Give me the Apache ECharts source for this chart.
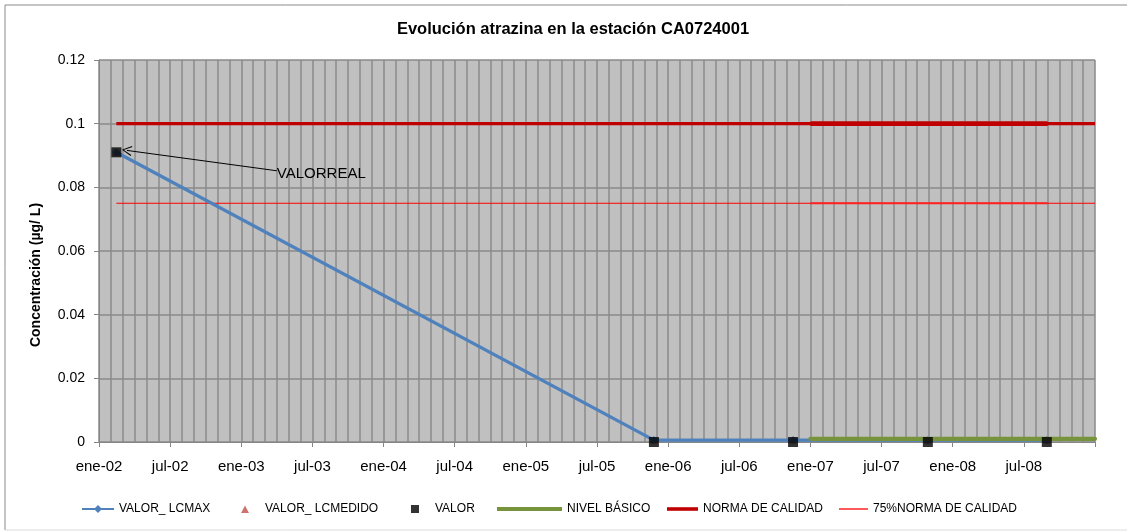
<!DOCTYPE html>
<html>
<head>
<meta charset="utf-8">
<script src="https://cdn.jsdelivr.net/npm/echarts@6/dist/echarts.min.js"></script>
<style>
html,body{margin:0;padding:0;background:#fff;}
#chart{width:1127px;height:532px;}
</style>
</head>
<body>
<div id="chart"></div>
<script>
// ---- data ----
const xTickLabels = ['ene-02','jul-02','ene-03','jul-03','ene-04','jul-04','ene-05','jul-05','ene-06','jul-06','ene-07','jul-07','ene-08','jul-08'];
const axisStart = '2002-01-01';
const axisEnd = '2009-01-01';
const sampleDates = ['2002-02-14','2005-11-25','2006-11-17','2007-10-29','2008-08-30'];
const valorLcMax = [0.091, 0.0006, 0.0006, 0.0006, 0.0006];
const valorLcMedido = [0.091, 0.0006, 0.0006, 0.0006, 0.0006];
const valor = [0.091, 0, 0, 0, 0];
const nivelBasicoDates = ['2007-01-01','2009-01-01'];
const nivelBasico = [0.001, 0.001];
const normaDates = ['2002-02-14','2009-01-01'];
const norma = [0.1, 0.1];
const norma75 = [0.075, 0.075];
const tramoDates = ['2007-01-01','2008-09-01'];
const annotationText = 'VALORREAL';
const annotationFrom = ['2003-04-01', 0.0852];
const annotationTo = ['2002-03-12', 0.0916];

// date -> months since axis start (fractional)
function toM(s){
  const [y,m,d] = s.split('-').map(Number);
  const s0 = axisStart.split('-').map(Number);
  const dim = new Date(y, m, 0).getDate();
  return (y - s0[0]) * 12 + (m - s0[1]) + (d - 1) / dim;
}
const pairs = (dates, vals) => dates.map((d,i)=>[toM(d), vals[i]]);

const REG = "'Liberation Sans',Arial,sans-serif";

const chart = echarts.init(document.getElementById('chart'), null, {renderer:'canvas'});

const LH = 10; // legend icon box height
const legendTop = 503;
function mkLegend(name, left, w, icon){
  return {
    data:[icon ? {name:name, icon:icon} : name], left:left, top:legendTop, itemWidth:w, itemHeight:LH,
    textStyle:{fontFamily:REG, fontSize:12, color:'#000'},
    selectedMode:false, padding:0
  };
}
function lineIcon(w, t){
  const a = (LH - t)/2, b = (LH + t)/2;
  return 'path://M0,0 M'+w+','+LH+' M0,'+a+' L'+w+','+a+' L'+w+','+b+' L0,'+b+' Z';
}
const triIcon = 'path://M0,0 M30,10 M11,9 L15,1.5 L19,9 Z';
const sqIcon = 'path://M0,0 M30,10 M11,1 L19,1 L19,9 L11,9 Z';

const option = {
  animation:false,
  backgroundColor:'#fff',
  title:{
    text:'Evolución atrazina en la estación CA0724001',
    left:568, top:16, textAlign:'center',
    textStyle:{fontFamily:REG, fontSize:16.5, fontWeight:'bold', color:'#000'}
  },
  graphic:[
    {type:'line', shape:{x1:5,y1:5,x2:1127,y2:5}, style:{stroke:'#8a8a8a', lineWidth:1}},
    {type:'line', shape:{x1:5,y1:5,x2:5,y2:530}, style:{stroke:'#8a8a8a', lineWidth:1}},
    {type:'line', shape:{x1:5,y1:530,x2:1127,y2:530}, style:{stroke:'#dcdcdc', lineWidth:1}},
    {type:'text', x:36, y:275, rotation:Math.PI/2,
     style:{text:'Concentración (µg/ L)', font:"bold 14px "+REG, fill:'#000', textAlign:'center', textVerticalAlign:'middle'}}
  ],
  legend:[
    mkLegend('VALOR_ LCMAX', 81, 32),
    mkLegend('VALOR_ LCMEDIDO', 230, 30, triIcon),
    mkLegend('VALOR', 400, 30, sqIcon),
    mkLegend('NIVEL BÁSICO', 497, 65, lineIcon(65, 4)),
    mkLegend('NORMA DE CALIDAD', 667, 31, lineIcon(31, 3.6)),
    mkLegend('75%NORMA DE CALIDAD', 839, 29, lineIcon(29, 1.3))
  ],
  grid:{left:99, right:32, top:60, bottom:90, show:true, backgroundColor:'#c0c0c0', borderWidth:0},
  xAxis:{
    type:'value', min:0, max:toM(axisEnd), interval:6,
    axisLine:{show:true, onZero:false, lineStyle:{color:'#868686', width:1}},
    axisTick:{show:true, inside:false, length:5, lineStyle:{color:'#868686'}},
    axisLabel:{margin:17, fontFamily:REG, fontSize:15, color:'#000',
      formatter:(v)=>{const i=Math.round(v/6); return (Math.abs(v-i*6)<1e-6 && xTickLabels[i]) ? xTickLabels[i] : '';}},
    splitLine:{show:true, lineStyle:{color:'#8a8a8a', width:1.5}},
    minorTick:{show:false, splitNumber:6},
    minorSplitLine:{show:true, lineStyle:{color:'#8a8a8a', width:1.5}}
  },
  yAxis:{
    type:'value', min:0, max:0.12, interval:0.02,
    axisLine:{show:true, lineStyle:{color:'#868686', width:1}},
    axisTick:{show:true, inside:false, length:5, lineStyle:{color:'#868686'}},
    axisLabel:{margin:14, fontFamily:REG, fontSize:14, color:'#000'},
    splitLine:{show:true, lineStyle:{color:'#8a8a8a', width:1.5}}
  },
  series:[
    {name:'NORMA DE CALIDAD', type:'line', data:pairs(normaDates, norma), symbol:'none',
     lineStyle:{color:'#c00000', width:3.3}, itemStyle:{color:'#c00000'}, z:3},
    {name:'tramoNorma', type:'line', data:pairs(tramoDates, norma), symbol:'none',
     lineStyle:{color:'#c00000', width:4.8}, z:3},
    {name:'75%NORMA DE CALIDAD', type:'line', data:pairs(normaDates, norma75), symbol:'none',
     lineStyle:{color:'#ff0000', width:1.2}, itemStyle:{color:'#ff0000'}, z:3},
    {name:'tramo75', type:'line', data:pairs(tramoDates, norma75), symbol:'none',
     lineStyle:{color:'#ff2020', width:1.8}, z:3},
    {name:'VALOR_ LCMEDIDO', type:'scatter', data:pairs(sampleDates, valorLcMedido), symbol:'triangle',
     symbolSize:7, itemStyle:{color:'#c0504d'}, z:4},
    {name:'VALOR_ LCMAX', type:'line', data:pairs(sampleDates, valorLcMax), symbol:'diamond', symbolSize:8,
     showAllSymbol:true,
     lineStyle:{color:'#4f81bd', width:3.3}, itemStyle:{color:'#4f81bd'}, z:5},
    {name:'NIVEL BÁSICO', type:'line', data:pairs(nivelBasicoDates, nivelBasico), symbol:'none',
     lineStyle:{color:'#77933c', width:4.2, cap:'round'}, itemStyle:{color:'#77933c'}, z:6},
    {name:'VALOR', type:'scatter', data:pairs(sampleDates, valor), symbol:'rect', symbolSize:10,
     itemStyle:{color:'#000'}, z:7,
     markLine:{
       silent:true, animation:false,
       lineStyle:{color:'#000', width:1, type:'solid'},
       label:{show:false},
       data:[[
         {coord:[toM(annotationFrom[0]), annotationFrom[1]], symbol:'none'},
         {coord:[toM(annotationTo[0]), annotationTo[1]], symbol:'path://M5,0 L10,10 L9,10.6 L5,2 L1,10.6 L0,10 Z', symbolSize:[10,10]}
       ]]
     },
     markPoint:{
       silent:true, animation:false,
       symbol:'circle', symbolSize:0,
       label:{show:true, position:'right', distance:0, offset:[0,3], formatter:annotationText,
              fontFamily:REG, fontSize:15, color:'#000'},
       data:[{coord:[toM(annotationFrom[0]), annotationFrom[1]]}]
     }
    }
  ]
};
chart.setOption(option);
</script>
</body>
</html>
